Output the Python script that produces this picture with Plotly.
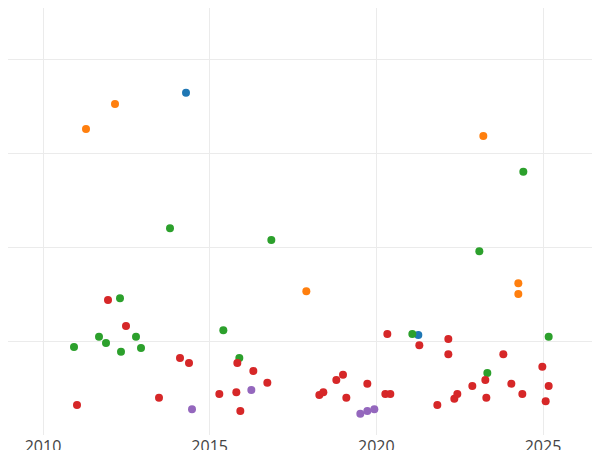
import plotly.graph_objects as go

# values (x = year, y = value)
blue_x = [2014.29, 2021.26]
blue_y = [72.8, 21.3]

orange_x = [2011.29, 2012.16, 2023.21, 2017.9, 2024.26, 2024.26]
orange_y = [65.1, 70.4, 63.6, 30.6, 32.3, 30.0]

green_x = [2013.81, 2016.85, 2024.41, 2023.09, 2012.31, 2010.93, 2011.68, 2011.89,
           2012.34, 2012.79, 2012.94, 2015.41, 2015.89, 2021.08, 2025.17, 2023.33]
green_y = [44.0, 41.5, 56.0, 39.1, 29.1, 18.7, 20.9, 19.6,
           17.7, 20.9, 18.5, 22.3, 16.4, 21.5, 20.9, 13.2]

red_x = [2011.95, 2012.49, 2011.02, 2013.48, 2014.11, 2014.38, 2015.29, 2015.83,
         2015.8, 2015.92, 2016.31, 2016.73, 2018.29, 2018.41, 2018.8, 2019.0,
         2019.1, 2019.73, 2020.33, 2020.27, 2020.42, 2021.29, 2021.83, 2022.16,
         2022.16, 2022.34, 2022.43, 2022.88, 2023.27, 2023.3, 2023.81, 2024.05,
         2024.38, 2024.98, 2025.08, 2025.17]
red_y = [28.7, 23.2, 6.4, 7.9, 16.4, 15.3, 8.7, 15.3,
         9.1, 5.1, 13.6, 11.1, 8.5, 9.1, 11.7, 12.8,
         7.9, 10.9, 21.5, 8.7, 8.7, 19.1, 6.4, 20.4,
         17.2, 7.7, 8.7, 10.4, 11.7, 7.9, 17.2, 10.9,
         8.7, 14.5, 7.2, 10.4]

purple_x = [2014.47, 2016.25, 2019.52, 2019.73, 2019.94]
purple_y = [5.5, 9.6, 4.5, 5.1, 5.5]

series = [
    (blue_x, blue_y, "#1f77b4"),
    (orange_x, orange_y, "#ff7f0e"),
    (green_x, green_y, "#2ca02c"),
    (red_x, red_y, "#d62728"),
    (purple_x, purple_y, "#9467bd"),
]

fig = go.Figure()
for xs, ys, color in series:
    fig.add_trace(go.Scatter(x=xs, y=ys, mode="markers",
                             marker=dict(color=color, size=8), cliponaxis=False))

fig.update_layout(
    width=600, height=450,
    plot_bgcolor="white", paper_bgcolor="white",
    showlegend=False,
    margin=dict(l=0, r=0, t=0, b=23, pad=0, autoexpand=False),
    font=dict(family="Open Sans", size=16, color="#444"),
    xaxis=dict(range=[2008.95, 2026.95], tickvals=[2010, 2015, 2020, 2025],
               showgrid=True, gridcolor="#ebebeb", zeroline=False, ticks="",
               automargin=False),
    yaxis=dict(range=[0, 90.85], dtick=20, showticklabels=False,
               showgrid=True, gridcolor="#ebebeb", zeroline=False,
               automargin=False),
)

fig.write_html("out.html")
